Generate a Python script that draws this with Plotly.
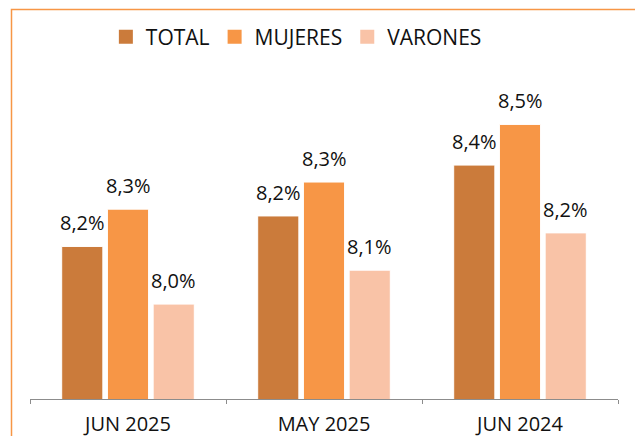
import plotly.graph_objects as go

categories = ["JUN 2025", "MAY 2025", "JUN 2024"]
total = [8.15, 8.24, 8.39]
mujeres = [8.26, 8.34, 8.51]
varones = [7.98, 8.08, 8.19]
total_labels = ["8,2%", "8,2%", "8,4%"]
mujeres_labels = ["8,3%", "8,3%", "8,5%"]
varones_labels = ["8,0%", "8,1%", "8,2%"]

series = [
    ("TOTAL", total, total_labels, "#CB7B3B"),
    ("MUJERES", mujeres, mujeres_labels, "#F79646"),
    ("VARONES", varones, varones_labels, "#F9C3A7"),
]

W, H = 635, 436
ml, mr, mt, mb = 30, 17, 60, 37
plot_w = W - ml - mr
plot_h = H - mt - mb
bargap = 0.30
bargroupgap = 0.10
slot = plot_w / len(categories) * (1 - bargap) / len(series)

fig = go.Figure()
annotations = []
for i, (name, vals, labels, color) in enumerate(series):
    fig.add_trace(go.Bar(
        name=name, x=categories, y=vals, showlegend=False,
        marker=dict(color=color, line=dict(color="white", width=1)),
        hoverinfo="skip",
    ))
    for c, v, lab in zip(categories, vals, labels):
        annotations.append(dict(
            x=c, y=v, xref="x", yref="y", text=lab, showarrow=False,
            xanchor="center", yanchor="bottom", yshift=8,
            xshift=(i - 1) * slot,
            font=dict(family="Open Sans", size=20, color="#111111"),
        ))
# legend entries with square swatches
for name, vals, labels, color in series:
    fig.add_trace(go.Scatter(
        name=name, x=[None], y=[None], mode="markers",
        marker=dict(symbol="square", size=14, color=color),
        hoverinfo="skip",
    ))

fig.update_layout(
    width=W, height=H,
    margin=dict(l=ml, r=mr, t=mt, b=mb, autoexpand=False),
    paper_bgcolor="white", plot_bgcolor="white",
    barmode="group", bargap=bargap, bargroupgap=bargroupgap,
    font=dict(family="Open Sans", color="#111111"),
    legend=dict(orientation="h", x=0.453, xanchor="center", y=1 + 23 / plot_h, yanchor="middle",
                font=dict(size=21), itemwidth=30, traceorder="normal",
                bgcolor="rgba(0,0,0,0)"),
    annotations=annotations,
    shapes=[dict(type="rect", xref="paper", yref="paper",
                 x0=-18.5 / plot_w, x1=1.2, y0=-0.3, y1=1 + 50.5 / plot_h,
                 line=dict(color="#F79646", width=1.5), fillcolor="rgba(0,0,0,0)",
                 layer="below")],
)
fig.update_xaxes(
    type="category", showline=True, linecolor="#8c8c8c", linewidth=1,
    ticks="outside", tickson="boundaries", ticklen=4, tickcolor="#8c8c8c",
    tickfont=dict(size=20, family="Open Sans", color="#111111"), showgrid=False,
    automargin=False, ticklabelstandoff=7,
)
fig.update_yaxes(range=[7.7, 8.7], visible=False, showgrid=False)

fig.write_html("out.html", config={"displayModeBar": False},
               post_script="document.body.style.margin='0';")
